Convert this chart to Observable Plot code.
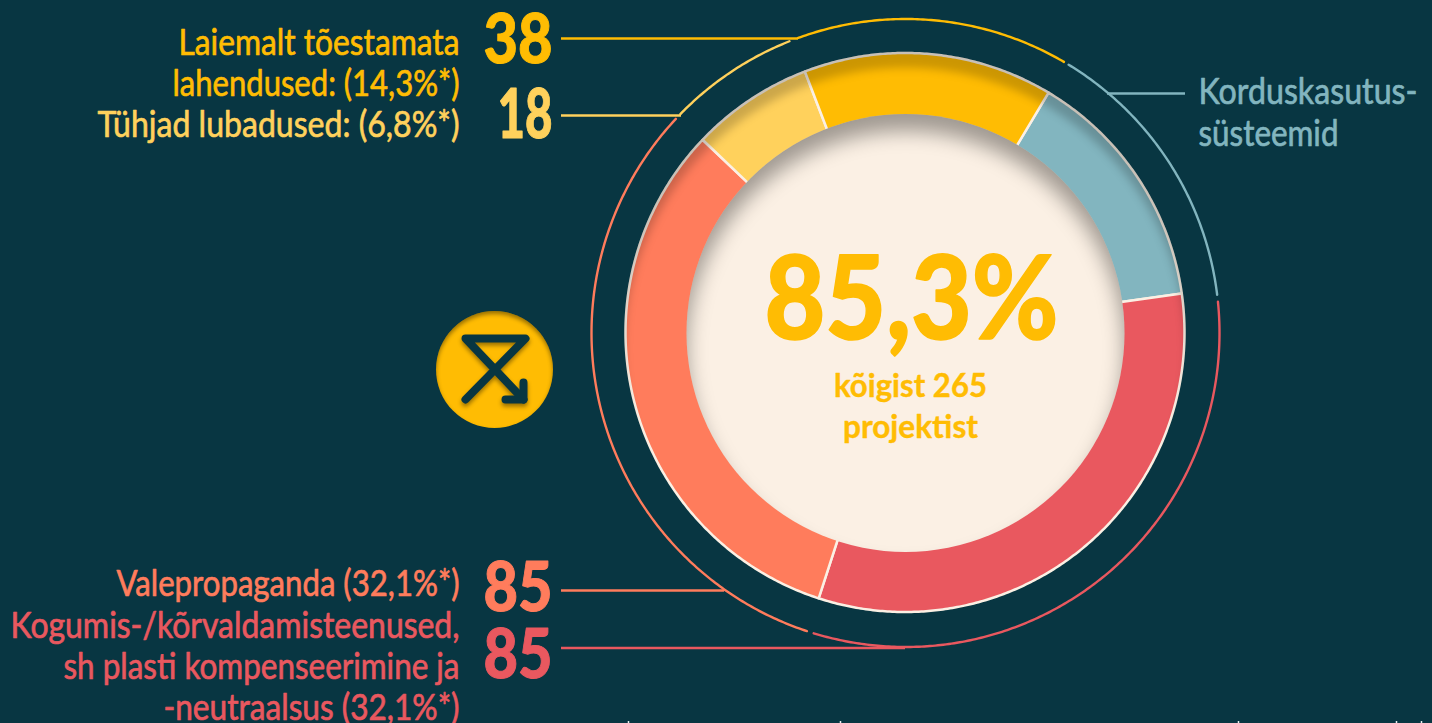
<!DOCTYPE html>
<html><head><meta charset="utf-8">
<script src="https://cdn.jsdelivr.net/npm/d3@7"></script>
<script src="https://cdn.jsdelivr.net/npm/@observablehq/plot@0.6"></script>
<style>html,body{margin:0;background:#083642;overflow:hidden}</style>
</head><body>
<div id="chart"></div>
<script>
// Data
const sliceNames = ["Korduskasutussüsteemid","Kogumis","Valepropaganda","Tühjad","Laiemalt"];
const sliceValues = [37.6,85.4,85.1,18.7,38.2];
const arcStarts = [31.3,84.3,198.3,314.2,340];
const arcEnds = [83,197,313,338.3,390.3];
const sliceColors = ["#82B5BF","#E9585F","#FF7C5C","#FFD15C","#FFBC03"];
const specks = [628,840,1238,1396,1421];

const W=1432,H=723,CX=905,CY=332.5,R0=219,RH=120,R1=279.5,RA=314,START=30.9;
const FONT="Lato,'Open Sans',Roboto,sans-serif";
const BG="#083642",CREAM="#FBF0E4";
const px=(r,a)=>CX+r*Math.sin(a*Math.PI/180), py=(r,a)=>CY-r*Math.cos(a*Math.PI/180);

// ring (its inner edge RH lies hidden under the centre disc)
const total=d3.sum(sliceValues);
let acc=START;
const ring=[];
sliceNames.forEach((n,i)=>{
  const a0=acc,a1=acc+sliceValues[i]/total*360;acc=a1;
  const steps=Math.ceil(a1-a0)*2;
  for(let k=0;k<=steps;k++){const a=a0+(a1-a0)*k/steps;
    ring.push({name:n,x1:px(RH,a),y1:py(RH,a),x2:px(R1,a),y2:py(R1,a)});}
});
// outer arcs
const arcs=[];
sliceNames.forEach((n,i)=>{
  const steps=Math.ceil(arcEnds[i]-arcStarts[i])*2;
  for(let k=0;k<=steps;k++){const a=arcStarts[i]+(arcEnds[i]-arcStarts[i])*k/steps;
    arcs.push({name:n,x:px(RA,a),y:py(RA,a)});}
});
// leaders
const leaders=[
 {name:"Laiemalt",x1:561,x2:798,y:38},
 {name:"Tühjad",x1:561,x2:681,y:115},
 {name:"Valepropaganda",x1:561,x2:724,y:590},
 {name:"Kogumis",x1:561,x2:905,y:647.5},
 {name:"Korduskasutussüsteemid",x1:1107,x2:1185,y:93}
];
const texts=[
 {t:"Laiemalt tõestamata",n:"Laiemalt",x:459,y:54},
 {t:"lahendused: (14,3%*)",n:"Laiemalt",x:459,y:95},
 {t:"Tühjad lubadused: (6,8%*)",n:"Tühjad",x:459,y:136},
 {t:"Valepropaganda (32,1%*)",n:"Valepropaganda",x:459,y:595},
 {t:"Kogumis-/kõrvaldamisteenused,",n:"Kogumis",x:459,y:637},
 {t:"sh plasti kompenseerimine ja",n:"Kogumis",x:459,y:678},
 {t:"-neutraalsus (32,1%*)",n:"Kogumis",x:459,y:719}
];
const rightTexts=[
 {t:"Korduskasutus-",x:1198,y:103},
 {t:"süsteemid",x:1198,y:145}
];
const nums=[
 {t:"38",n:"Laiemalt",x:552,y:62},
 {t:"18",n:"Tühjad",x:552,y:137},
 {t:"85",n:"Valepropaganda",x:552,y:610},
 {t:"85",n:"Kogumis",x:552,y:677}
];
const icon=[
 [[465,399],[525,338],[465,338],[523,399]],
 [[523,382],[523,399],[505,399]]
].flatMap((p,i)=>p.map(([x,y])=>({x,y,i})));
// rendered width of each text in the picture
const widths=new Map([["Laiemalt tõestamata",281],["lahendused: (14,3%*)",287],["Tühjad lubadused: (6,8%*)",362],
 ["Valepropaganda (32,1%*)",343],["Kogumis-/kõrvaldamisteenused,",449],["sh plasti kompenseerimine ja",396],["-neutraalsus (32,1%*)",296],
 ["Korduskasutus-",219],["süsteemid",140],["38",69],["18",55],["85",69],["85,3%",294],["kõigist 265",153],["projektist",135]]);

const textBase={textAnchor:"end",lineAnchor:"bottom",fontFamily:FONT};
const svg=Plot.plot({
  width:W,height:H,margin:0,
  x:{domain:[0,W],range:[0,W],axis:null},
  y:{domain:[0,H],range:[0,H],axis:null},
  color:{domain:sliceNames,range:sliceColors},
  style:{background:BG,fontFamily:FONT},
  marks:[
    Plot.line(arcs,{x:"x",y:"y",z:"name",stroke:"name",strokeWidth:2.4,curve:"linear"}),
    Plot.ruleY(leaders,{y:"y",x1:"x1",x2:"x2",stroke:"name",strokeWidth:2.4}),
    Plot.ruleX(specks,{x:d=>d,y1:721,y2:723,stroke:"#e8eef0",strokeWidth:1.5}),
    Plot.area(ring,{x1:"x1",y1:"y1",x2:"x2",y2:"y2",z:"name",fill:"name",stroke:CREAM,strokeWidth:2.5,imageFilter:"url(#inner)"}),
    Plot.dot([{x:CX,y:CY}],{x:"x",y:"y",r:R0,fill:CREAM,imageFilter:"url(#innerDisc)"}),
    Plot.dot([{x:494,y:369}],{x:"x",y:"y",r:58.5,fill:"#FFBC03",imageFilter:"url(#innerSmall)"}),
    Plot.line(icon,{x:"x",y:"y",z:"i",stroke:BG,strokeWidth:8,strokeLinecap:"round",strokeLinejoin:"round",curve:"linear",imageFilter:"drop-shadow(0 3px 2px rgba(0,0,0,.4))"}),
    Plot.text(texts,{x:"x",y:"y",text:"t",fill:"n",stroke:"n",strokeWidth:0.7,fontSize:37,fontWeight:"normal",...textBase}),
    Plot.text(rightTexts,{x:"x",y:"y",text:"t",fill:"#82B5BF",stroke:"#82B5BF",strokeWidth:0.7,fontSize:37,textAnchor:"start",lineAnchor:"bottom",fontFamily:FONT}),
    Plot.text(nums,{x:"x",y:"y",text:"t",fill:"n",stroke:"n",strokeWidth:1,fontSize:68,fontWeight:900,...textBase}),
    Plot.text(["85,3%"],{x:()=>911,y:()=>338,text:d=>d,fill:"#FFBC03",stroke:"#FFBC03",strokeWidth:1.5,fontSize:117,fontWeight:900,textAnchor:"middle",lineAnchor:"bottom",fontFamily:FONT}),
    Plot.text(["kõigist 265"],{x:()=>910,y:()=>396,text:d=>d,fill:"#FFBC03",fontSize:32,fontWeight:"bold",stroke:"#FFBC03",strokeWidth:0.4,textAnchor:"middle",lineAnchor:"bottom",fontFamily:FONT}),
    Plot.text(["projektist"],{x:()=>910,y:()=>437,text:d=>d,fill:"#FFBC03",fontSize:32,fontWeight:"bold",stroke:"#FFBC03",strokeWidth:0.4,textAnchor:"middle",lineAnchor:"bottom",fontFamily:FONT})
  ]
});
svg.querySelectorAll("text").forEach(el=>{
  const w=widths.get(el.textContent);
  if(w){el.setAttribute("textLength",w);el.setAttribute("lengthAdjust","spacingAndGlyphs");}
});
const mk=(id,dy,blur,op)=>`<filter id="${id}" x="-10%" y="-10%" width="120%" height="120%" color-interpolation-filters="sRGB">
<feComponentTransfer in="SourceAlpha" result="inv"><feFuncA type="table" tableValues="1 0"/></feComponentTransfer>
<feGaussianBlur in="inv" stdDeviation="${blur}"/><feOffset dy="${dy}" result="o"/>
<feFlood flood-color="#000" flood-opacity="${op}"/><feComposite in2="o" operator="in"/><feComposite in2="SourceAlpha" operator="in" result="s"/>
<feMerge><feMergeNode in="SourceGraphic"/><feMergeNode in="s"/></feMerge></filter>`;
const defs=document.createElementNS("http://www.w3.org/2000/svg","defs");
defs.innerHTML=mk("inner",16,4,.2)+mk("innerDisc",17,10,.36)+mk("innerSmall",3,2,.4);
svg.insertBefore(defs,svg.firstChild);
document.getElementById("chart").appendChild(svg);
</script>
</body></html>
